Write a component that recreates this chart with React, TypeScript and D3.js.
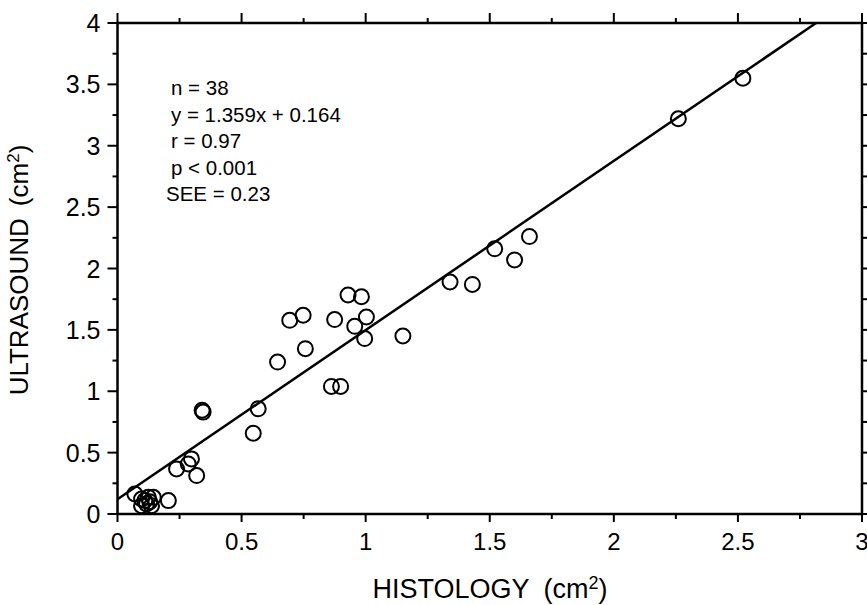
import React from "react";
import * as d3 from "d3";

// histology (x) vs ultrasound (y) area, cm^2
const histology = [
  2.52, 2.26, 1.66, 1.6, 1.52, 1.43, 1.34, 1.15,
  0.929, 0.983, 0.875, 0.956, 1.003, 0.996,
  0.694, 0.748, 0.757, 0.645, 0.862, 0.899,
  0.567, 0.547, 0.341, 0.345,
  0.07, 0.205, 0.238, 0.285, 0.298, 0.319,
  0.097, 0.124, 0.144, 0.117, 0.137, 0.097, 0.13, 0.11,
];
const ultrasound = [
  3.55, 3.22, 2.26, 2.07, 2.16, 1.87, 1.89, 1.45,
  1.784, 1.77, 1.584, 1.529, 1.605, 1.429,
  1.578, 1.619, 1.347, 1.238, 1.039, 1.039,
  0.857, 0.658, 0.845, 0.83,
  0.163, 0.109, 0.367, 0.408, 0.449, 0.313,
  0.068, 0.136, 0.136, 0.082, 0.068, 0.122, 0.1, 0.11,
];

// regression line as drawn in the figure
const fitX = [0, 2.815];
const fitY = [0.12, 4];

const statsLines = ["n = 38", "y = 1.359x + 0.164", "r = 0.97", "p < 0.001", "SEE = 0.23"];

const xTickLabels = [0, 0.5, 1, 1.5, 2, 2.5, 3];
const yTickLabels = [0, 0.5, 1, 1.5, 2, 2.5, 3, 3.5, 4];

const width = 867;
const height = 605;
const margin = { top: 23, right: 5, bottom: 91, left: 117.5 };
const font = "'Liberation Sans', Arial, Helvetica, sans-serif";

export default function App() {
  const x = d3.scaleLinear().domain([0, 3]).range([margin.left, width - margin.right]);
  const y = d3.scaleLinear().domain([0, 4]).range([height - margin.bottom, margin.top]);
  const [x0, x1] = x.range();
  const [y0, y1] = y.range();

  const minorX = d3.range(0, 3.001, 0.25);
  const minorY = d3.range(0, 4.001, 0.25);
  const isMajor = (v: number) => Math.abs(v * 2 - Math.round(v * 2)) < 1e-6;

  const line = d3
    .line<number>()
    .x((d) => x(fitX[d]))
    .y((d) => y(fitY[d]));

  const fmt = (v: number) => (v === 0 ? "0" : String(v));

  return (
    <svg
      width={width}
      height={height}
      style={{ position: "absolute", left: 0, top: 0, background: "#fff" }}
      fontFamily={font}
    >
      {/* frame */}
      <rect x={x0} y={y1} width={x1 - x0} height={y0 - y1} fill="none" stroke="#000" strokeWidth={2.5} />

      {/* bottom & top ticks */}
      {minorX.map((v, i) => {
        const len = isMajor(v) ? 8 : 5;
        return (
          <g key={"xt" + i} stroke="#000" strokeWidth={2}>
            <line x1={x(v)} x2={x(v)} y1={y0} y2={y0 + len} />
            <line x1={x(v)} x2={x(v)} y1={y1} y2={y1 - (isMajor(v) ? 10 : 5)} />
          </g>
        );
      })}
      {/* left & right ticks */}
      {minorY.map((v, i) => {
        const len = isMajor(v) ? 10 : 5;
        return (
          <g key={"yt" + i} stroke="#000" strokeWidth={2}>
            <line x1={x0} x2={x0 - len} y1={y(v)} y2={y(v)} />
            <line x1={x1} x2={x1 + len} y1={y(v)} y2={y(v)} />
          </g>
        );
      })}

      {xTickLabels.map((v) => (
        <text key={"xl" + v} x={x(v)} y={y0 + 36} textAnchor="middle" fontSize={24}>
          {fmt(v)}
        </text>
      ))}
      {yTickLabels.map((v) => (
        <text key={"yl" + v} x={x0 - 17} y={y(v) + 9} textAnchor="end" fontSize={25}>
          {fmt(v)}
        </text>
      ))}

      {/* axis titles */}
      <text x={490} y={598} textAnchor="middle" fontSize={27}>
        HISTOLOGY
        <tspan dx={14}>(cm</tspan>
        <tspan dy={-9} fontSize={18}>2</tspan>
        <tspan dy={9}>)</tspan>
      </text>
      <text transform={`translate(28,${270}) rotate(-90)`} textAnchor="middle" fontSize={26}>
        ULTRASOUND
        <tspan dx={12}>(cm</tspan>
        <tspan dy={-9} fontSize={17}>2</tspan>
        <tspan dy={9}>)</tspan>
      </text>

      {/* regression line */}
      <path d={line([0, 1]) ?? ""} fill="none" stroke="#000" strokeWidth={2.5} />

      {/* points */}
      {histology.map((h, i) => (
        <circle
          key={"p" + i}
          cx={x(h)}
          cy={y(ultrasound[i])}
          r={7.5}
          fill="none"
          stroke="#000"
          strokeWidth={2}
        />
      ))}

      {/* stats */}
      {statsLines.map((s, i) => (
        <text key={"s" + i} x={i === 4 ? 166 : 171} y={95 + i * 26.5} fontSize={20.5}>
          {s}
        </text>
      ))}
    </svg>
  );
}
